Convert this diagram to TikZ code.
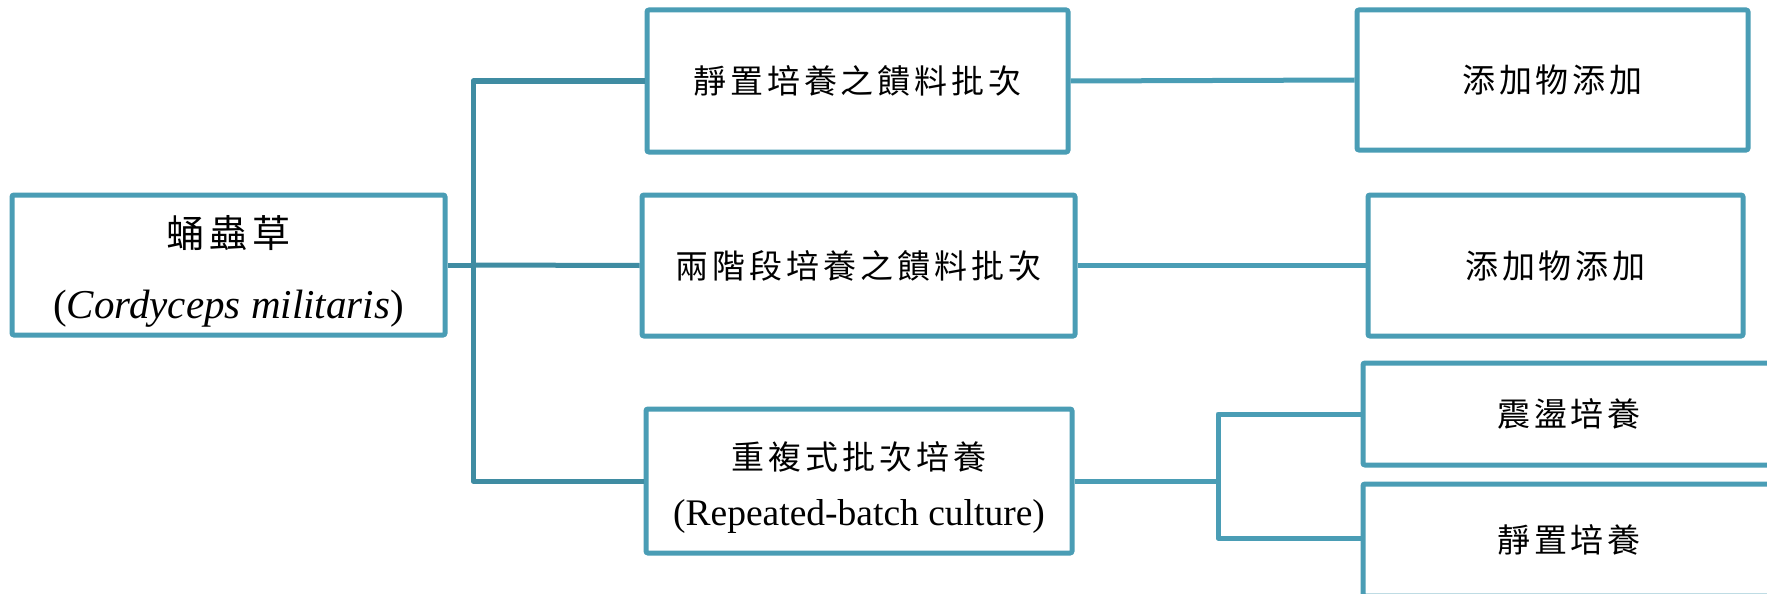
\documentclass[tikz,border=0pt]{standalone}
\usepackage{fontspec}
\setmainfont{Liberation Serif}
\newfontfamily\cjk[LetterSpace=12]{Noto Sans CJK TC}
\definecolor{boxc}{HTML}{4A9DB5}
\definecolor{treec}{HTML}{3F8CA2}
\tikzset{
  box/.style={draw=boxc, line width=5pt, rounded corners=2pt, inner sep=0pt, align=center, fill=white},
  tree/.style={draw=treec, line width=5pt, line join=round},
  link/.style={draw=boxc, line width=5pt, line join=round},
  one/.style={font=\fontsize{33}{40}\selectfont\cjk}
}
\begin{document}
\begin{tikzpicture}[x=1pt,y=-1pt]
\clip (0,0) rectangle (1767,594);
\fill[white] (0,0) rectangle (1767,594);
% connectors
\coordinate (jt) at (473,81);
\coordinate (jm) at (473,265);
\coordinate (jb) at (473,481);
\coordinate (kt) at (1218,414);
\coordinate (km) at (1218,481);
\coordinate (kb) at (1218,538);
% boxes
\node[box, minimum width=433pt, minimum height=140pt, font=\fontsize{38}{71}\selectfont] (root) at (228.5,265)
  {\rule{0pt}{44pt}{\cjk 蛹蟲草}\\{\fontsize{41}{71}\selectfont(\textit{Cordyceps militaris})}};
\node[box, one, minimum width=421pt, minimum height=142pt] (b1) at (857.5,81) {靜置培養之饋料批次};
\node[box, one, minimum width=391pt, minimum height=140pt] (b1r) at (1552.5,80) {添加物添加};
\node[box, one, minimum width=433pt, minimum height=141pt] (b2) at (858.5,265.5) {兩階段培養之饋料批次};
\node[box, one, minimum width=375pt, minimum height=141pt] (b2r) at (1555.5,265.5) {添加物添加};
\node[box, minimum width=426pt, minimum height=144pt, font=\fontsize{33}{56}\selectfont] (b3) at (859,481)
  {\rule{0pt}{40pt}{\cjk 重複式批次培養}\\{\fontsize{37.5}{56}\selectfont (Repeated-batch culture)}};
\node[box, one, minimum width=412pt, minimum height=102pt] (b4) at (1569,414) {震盪培養};
\node[box, one, minimum width=412pt, minimum height=112pt] (b5) at (1569,540) {靜置培養};
% tree lines
\draw[tree] (root.east) -- (jm);
\draw[tree] (b1.west) -- (jt) -- (jb) -- (b3.west);
\draw[tree] (jm) -- (b2.west);
\draw[link] (b1.east) -- (b1r.west);
\draw[link] (b2.east) -- (b2r.west);
\draw[link] (b3.east) -- (km);
\draw[link] (b4.west) -- (kt) -- (kb) -- (kb -| b5.west);
\end{tikzpicture}
\end{document}
